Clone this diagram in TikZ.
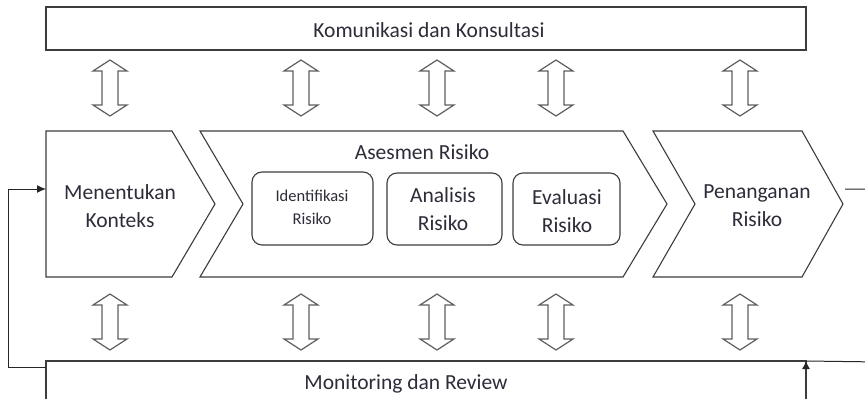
\documentclass[tikz,border=0pt]{standalone}
\usepackage{fontspec}
\setmainfont{Carlito}
\usetikzlibrary{arrows.meta}
\definecolor{ink}{RGB}{45,45,58}
\definecolor{edge}{RGB}{60,60,60}
\definecolor{arrowgray}{RGB}{95,95,95}
\tikzset{
  box/.style={draw=edge, line width=1.1pt, fill=white},
  lbl/.style={text=ink, align=center, font=\fontsize{21.5}{28}\selectfont, inner sep=0pt},
  smalllbl/.style={lbl, font=\fontsize{16.5}{23}\selectfont},
  fb/.style={draw=black!85, line width=1pt},
  pics/updown/.style={code={
    \draw[arrowgray, line width=1.2pt, line join=miter, fill=white]
      (0,-28) -- (17,-17) -- (8,-17) -- (8,17) -- (17,17) -- (0,28)
      -- (-17,17) -- (-8,17) -- (-8,-17) -- (-17,-17) -- cycle;
  }}
}
\begin{document}
\begin{tikzpicture}[x=1pt, y=-1pt]
\useasboundingbox (0,0) rectangle (865,399);
\clip (0,0) rectangle (865,399);

% communication bar
\draw[box] (46,7) rectangle (806,50);
\node[lbl] (kom) at (429,30) {Komunikasi dan Konsultasi};

% monitoring bar (runs past the lower edge)
\draw[box] (46,361) rectangle (806,420);
\coordinate (mrW) at (46,367);
\coordinate (mrNE) at (806,361);
\node[lbl] (mon) at (406,384) {Monitoring dan Review};

% process chevrons
\draw[box] (46,131) -- (172,131) -- (215,204) -- (172,277) -- (46,277) -- cycle;
\draw[box] (200,131) -- (623,131) -- (667,204) -- (623,277) -- (200,277) -- (243,204) -- cycle;
\draw[box] (653,131) -- (802,131) -- (843,204) -- (802,277) -- (653,277) -- (695,204) -- cycle;
\coordinate (ctxIn) at (46,189);
\coordinate (trtOut) at (845,189);

\node[lbl] (ctx) at (120,206) {Menentukan\\Konteks};
\node[lbl] (ases) at (422,152) {Asesmen Risiko};
\node[lbl] (trt) at (757,206) {Penanganan\\Risiko};

% assessment steps
\draw[box, rounded corners=10pt] (252,172) rectangle (373,245);
\draw[box, rounded corners=10pt] (387,173) rectangle (502,245);
\draw[box, rounded corners=10pt] (513,173) rectangle (620,245);
\node[smalllbl] (idf) at (312,207) {Identifikasi\\Risiko};
\node[lbl] (ana) at (443,209) {Analisis\\Risiko};
\node[lbl] (eva) at (567,211) {Evaluasi\\Risiko};

% two-way links to the bars
\foreach \x in {110,301,437,556,740} {
  \pic at (\x,88) {updown};
  \pic at (\x,322) {updown};
}

% feedback loops
\draw[fb, -{Latex[length=9pt,width=8pt]}] (mrW) -- (8,367) |- (ctxIn);
\draw[fb] (trtOut) -- (880,189) -- (880,362) -- (mrNE);
\draw[fb, -{Latex[length=8pt,width=8pt]}] (806,368) -- (mrNE);
\end{tikzpicture}
\end{document}
